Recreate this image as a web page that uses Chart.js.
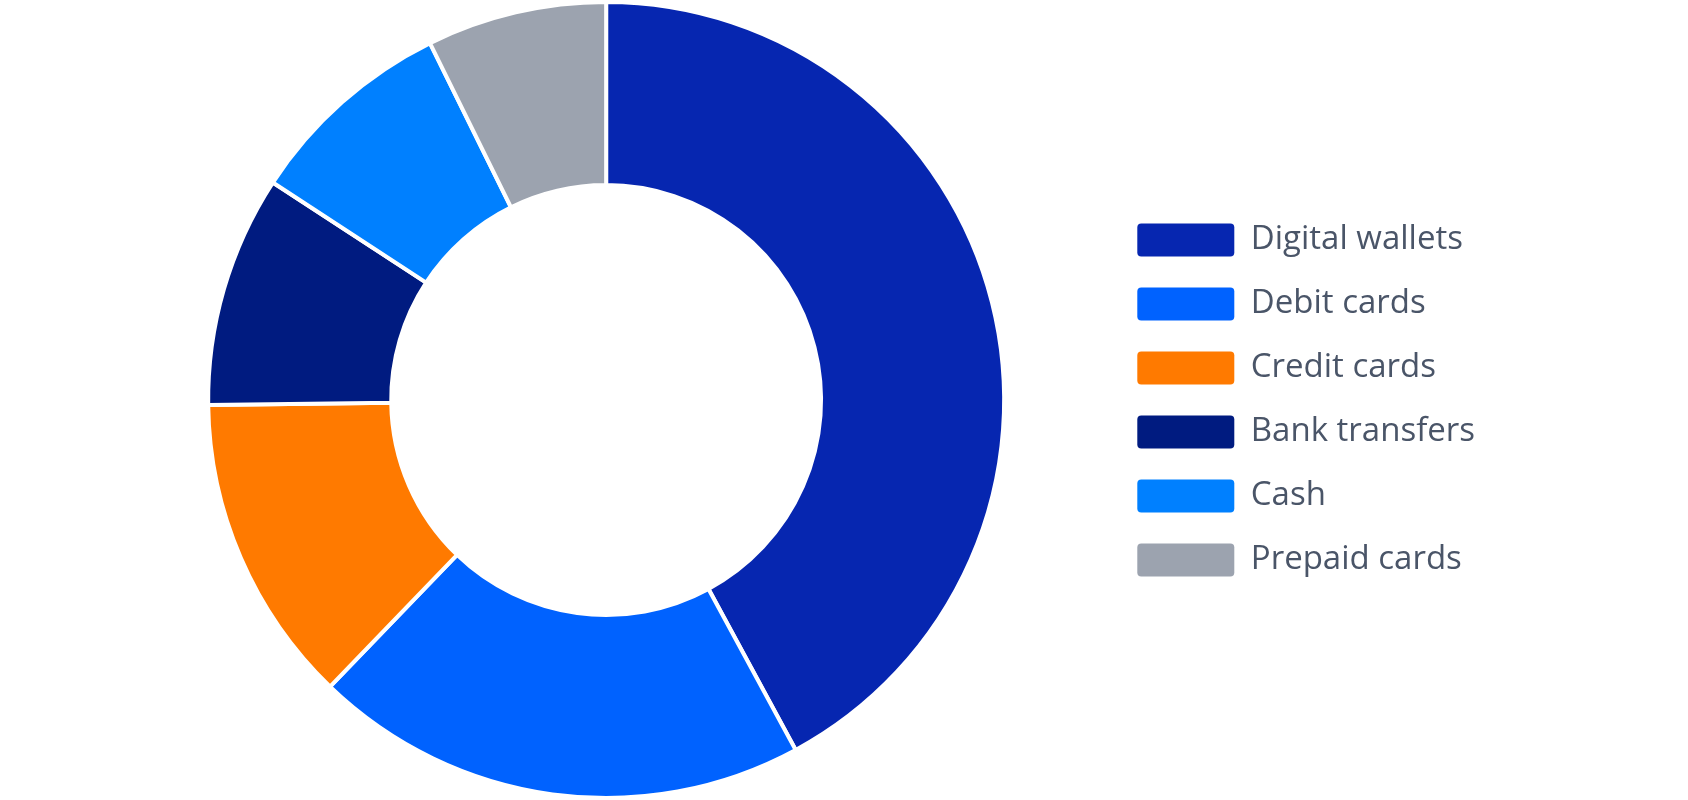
<!DOCTYPE html>
<html>
<head>
<meta charset="utf-8">
<script src="https://cdn.jsdelivr.net/npm/chart.js@4.4.1/dist/chart.umd.min.js"></script>
<style>
  html, body { margin: 0; padding: 0; background: #ffffff; }
  #wrap { width: 1688px; height: 800px; position: relative; }
</style>
</head>
<body>
<div id="wrap"><canvas id="c"></canvas></div>
<script>
const categories = ["Digital wallets", "Debit cards", "Credit cards", "Bank transfers", "Cash", "Prepaid cards"];
const shares = [42.1, 20.1, 12.6, 9.4, 8.5, 7.3];
const colors = ["#0626B0", "#0062FF", "#FF7A00", "#001B80", "#0080FF", "#9CA3AF"];

new Chart(document.getElementById('c'), {
  type: 'doughnut',
  data: {
    labels: categories,
    datasets: [{
      data: shares,
      backgroundColor: colors,
      borderColor: '#ffffff',
      borderWidth: 4,
      hoverOffset: 0,
      hoverBorderWidth: 4
    }]
  },
  options: {
    responsive: true,
    maintainAspectRatio: false,
    animation: false,
    cutout: '54%',
    layout: { padding: { left: 106, right: 203, top: 0, bottom: 0 } },
    plugins: {
      tooltip: { enabled: false },
      legend: {
        position: 'right',
        align: 'center',
        labels: {
          boxWidth: 97,
          boxHeight: 33,
          padding: 31,
          useBorderRadius: true,
          borderRadius: 4,
          color: '#4A5568',
          font: { family: "'Open Sans', sans-serif", size: 33 },
          generateLabels: (chart) => {
            const items = Chart.overrides.doughnut.plugins.legend.labels.generateLabels(chart);
            return items.map(it => Object.assign(it, { lineWidth: 0, strokeStyle: 'rgba(0,0,0,0)' }));
          }
        }
      }
    }
  }
});
</script>
</body>
</html>
